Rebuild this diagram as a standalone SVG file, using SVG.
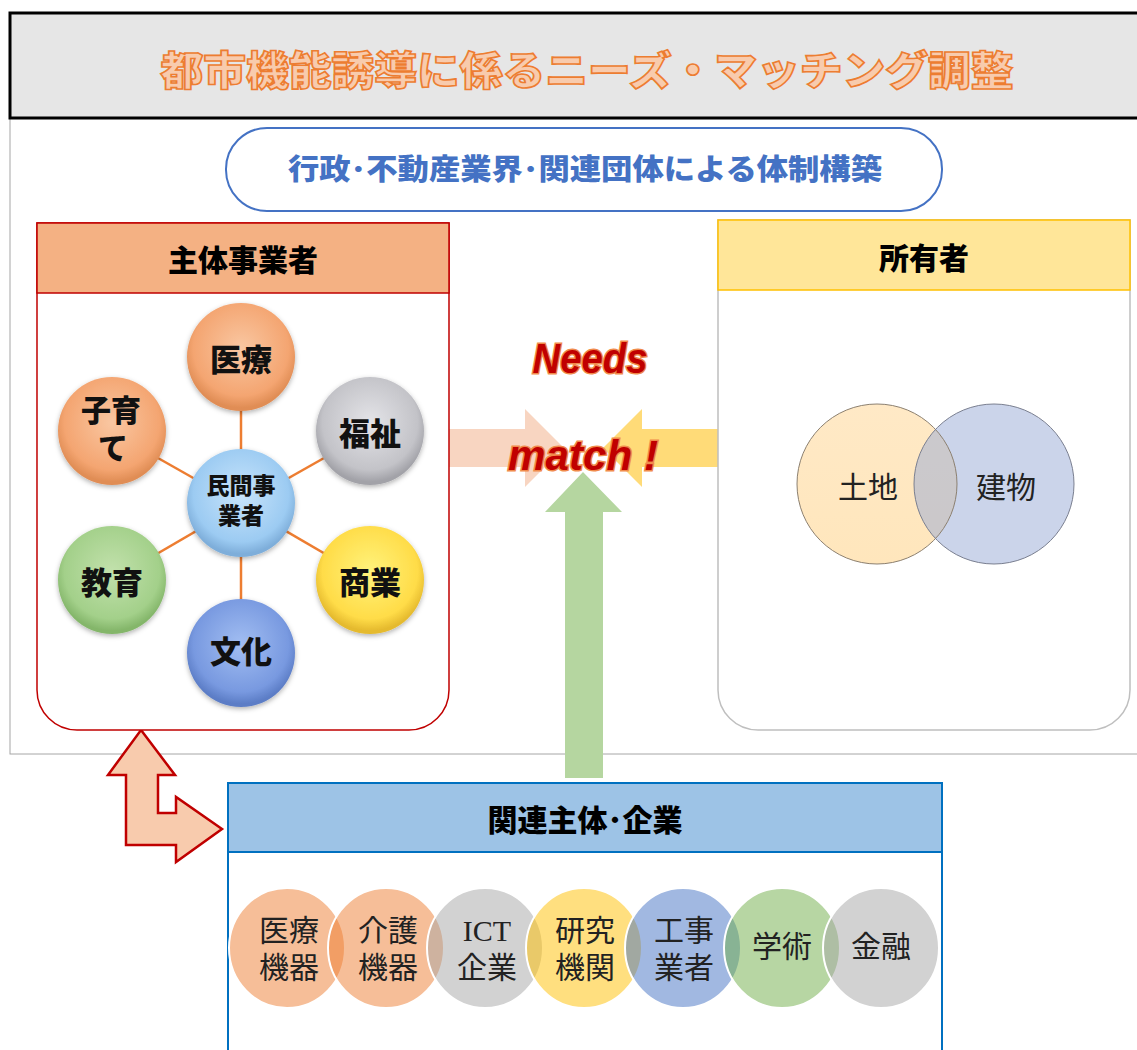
<svg xmlns="http://www.w3.org/2000/svg" width="1137" height="1050" viewBox="0 0 1137 1050">
<defs>
<style>
.hb{font-family:"Noto Sans CJK JP",sans-serif;font-weight:900;font-size:30px;fill:#000;text-anchor:middle;dominant-baseline:central}
.ball{font-family:"Noto Sans CJK JP",sans-serif;font-weight:900;font-size:31px;fill:#111;text-anchor:middle;dominant-baseline:central}
.ball2{font-family:"Liberation Sans","Noto Sans CJK JP",sans-serif;font-weight:900;fill:#111;text-anchor:middle}
.mincho{font-family:"Liberation Serif","Noto Sans CJK JP",serif;font-size:30px;fill:#222;text-anchor:middle;dominant-baseline:central}
.conn{stroke:#ED7D31;stroke-width:2.5}
.ven{stroke:#fff;stroke-width:2;fill-opacity:0.5}
.pop{font-family:"Liberation Sans",sans-serif;font-weight:bold;font-style:italic;font-size:42px;fill:#C00000;stroke:#F08A4B;stroke-width:3;paint-order:stroke;text-anchor:middle}
</style>
<radialGradient id="gOr" cx="50%" cy="42%" r="55%"><stop offset="0" stop-color="#F9C7A2"/><stop offset="0.8" stop-color="#F4A571"/><stop offset="1" stop-color="#E08D55"/></radialGradient>
<radialGradient id="gGy" cx="50%" cy="42%" r="55%"><stop offset="0" stop-color="#E4E4E8"/><stop offset="0.8" stop-color="#C3C3C8"/><stop offset="1" stop-color="#A2A2A8"/></radialGradient>
<radialGradient id="gLb" cx="50%" cy="42%" r="55%"><stop offset="0" stop-color="#C8E4FB"/><stop offset="0.8" stop-color="#9CCBF2"/><stop offset="1" stop-color="#7EAEDA"/></radialGradient>
<radialGradient id="gGr" cx="50%" cy="42%" r="55%"><stop offset="0" stop-color="#C2E1AC"/><stop offset="0.8" stop-color="#A3D08A"/><stop offset="1" stop-color="#84B66A"/></radialGradient>
<radialGradient id="gYe" cx="50%" cy="42%" r="55%"><stop offset="0" stop-color="#FFF37C"/><stop offset="0.8" stop-color="#FFDC48"/><stop offset="1" stop-color="#E5BA2E"/></radialGradient>
<radialGradient id="gBl" cx="50%" cy="42%" r="55%"><stop offset="0" stop-color="#A2BEF2"/><stop offset="0.8" stop-color="#7899E0"/><stop offset="1" stop-color="#5C7DC6"/></radialGradient>
<linearGradient id="gLand" x1="0" y1="0" x2="0" y2="1"><stop offset="0" stop-color="#FFE9C6"/><stop offset="1" stop-color="#FFE6BC"/></linearGradient>
<filter id="sh" x="-20%" y="-20%" width="140%" height="140%"><feDropShadow dx="0" dy="2" stdDeviation="2.5" flood-color="#000" flood-opacity="0.3"/></filter>
</defs>

<rect id="outer" x="10" y="118" width="1140" height="636" fill="#fff" stroke="#A6A6A6" stroke-width="1"/>
<g id="title">
<rect x="10" y="13" width="1140" height="105" fill="#E6E6E6" stroke="#000" stroke-width="3"/>
<text x="587" y="68" textLength="853" lengthAdjust="spacingAndGlyphs" style="font-family:'Noto Sans CJK JP',sans-serif;font-weight:900;font-size:40px;fill:#F8CBAD;stroke:#ED7D31;stroke-width:1.6;text-anchor:middle;dominant-baseline:central">都市機能誘導に係るニーズ・マッチング調整</text>
</g>
<g id="system">
<rect x="226" y="128" width="716" height="83" rx="41" fill="#fff" stroke="#4472C4" stroke-width="2"/>
<text x="585" y="167" textLength="594" lengthAdjust="spacingAndGlyphs" style="font-family:'Noto Sans CJK JP',sans-serif;font-weight:900;font-size:29px;fill:#4472C4;text-anchor:middle;dominant-baseline:central">行政･不動産業界･関連団体による体制構築</text>
</g>

<g id="connectors">
<polygon points="449,429 525,429 525,409 564,448 525,487 525,467 449,467" fill="#F8D5C1"/>
<polygon points="718,429 642,429 642,409 603,448 642,487 642,467 718,467" fill="#FFDB78"/>
<polygon points="565,778 565,512 545,512 583,472 622,512 603,512 603,778" fill="#B5D6A0"/>
<path d="M141,730 L175,775 L158,775 L158,813 L176,813 L176,797 L222,829 L176,862 L176,845 L126,845 L126,775 L108,775 Z" fill="#F8CBAD" stroke="#C00000" stroke-width="2.5" stroke-linejoin="miter"/>
</g>

<g id="operators">
<path d="M37,223 H449 V690 A40,40 0 0 1 409,730 H77 A40,40 0 0 1 37,690 Z" fill="#fff" stroke="#C00000" stroke-width="1.5"/>
<rect x="37" y="223" width="412" height="70" fill="#F4B183" stroke="#C00000" stroke-width="1.5"/>
<text class="hb" x="243" y="258">主体事業者</text>
<g id="hub-lines">
<line class="conn" x1="241" y1="505" x2="241" y2="357"/>
<line class="conn" x1="241" y1="505" x2="241" y2="655"/>
<line class="conn" x1="241" y1="505" x2="112" y2="432"/>
<line class="conn" x1="241" y1="505" x2="370" y2="432"/>
<line class="conn" x1="241" y1="505" x2="112" y2="580"/>
<line class="conn" x1="241" y1="505" x2="370" y2="580"/>
</g>
<g id="n-iryo"><circle cx="241" cy="357" r="54" fill="url(#gOr)" filter="url(#sh)"/><text class="ball" x="241" y="357">医療</text></g>
<g id="n-fukushi"><circle cx="370" cy="431" r="54" fill="url(#gGy)" filter="url(#sh)"/><text class="ball" x="370" y="431">福祉</text></g>
<g id="n-kosodate"><circle cx="112" cy="431" r="54" fill="url(#gOr)" filter="url(#sh)"/><text class="ball2" style="font-size:30px" x="111" y="421">子育</text><text class="ball2" style="font-size:30px" x="113" y="459">て</text></g>
<g id="n-minkan"><circle cx="241" cy="503" r="54" fill="url(#gLb)" filter="url(#sh)"/><text class="ball2" style="font-size:23px" x="241" y="494">民間事</text><text class="ball2" style="font-size:23px" x="241" y="524">業者</text></g>
<g id="n-kyoiku"><circle cx="112" cy="580" r="54" fill="url(#gGr)" filter="url(#sh)"/><text class="ball" x="112" y="580">教育</text></g>
<g id="n-shogyo"><circle cx="370" cy="580" r="54" fill="url(#gYe)" filter="url(#sh)"/><text class="ball" x="370" y="580">商業</text></g>
<g id="n-bunka"><circle cx="241" cy="653" r="54" fill="url(#gBl)" filter="url(#sh)"/><text class="ball" x="241" y="649">文化</text></g>
</g>

<g id="owners">
<path d="M718,220 H1130 V690 A40,40 0 0 1 1090,730 H758 A40,40 0 0 1 718,690 Z" fill="#fff" stroke="#BFBFBF" stroke-width="1.5"/>
<rect x="718" y="220" width="412" height="70" fill="#FFE699" stroke="#FFC000" stroke-width="1.5"/>
<text class="hb" x="924" y="256">所有者</text>
<g id="n-land"><circle cx="877" cy="484" r="80" fill="url(#gLand)"/></g>
<g id="n-building"><circle cx="994" cy="484" r="80" fill="#97A9D5" fill-opacity="0.5"/></g>
<circle cx="877" cy="484" r="80" fill="none" stroke="#8C8070" stroke-width="1"/>
<circle cx="994" cy="484" r="80" fill="none" stroke="#7A7F90" stroke-width="1"/>
<text class="mincho" x="868" y="487">土地</text>
<text class="mincho" x="1006" y="487">建物</text>
</g>

<g id="match-label">
<text class="pop" x="590" y="373" textLength="115" lengthAdjust="spacingAndGlyphs">Needs</text>
<text class="pop" x="583" y="470" textLength="150" lengthAdjust="spacingAndGlyphs">match !</text>
</g>

<g id="related">
<rect x="228" y="783" width="714" height="300" fill="#fff" stroke="#0070C0" stroke-width="2"/>
<rect x="228" y="783" width="714" height="69" fill="#9DC3E6" stroke="#0070C0" stroke-width="2"/>
<text class="hb" x="585" y="818">関連主体･企業</text>
<g id="r1"><ellipse class="ven" cx="287" cy="948" rx="58" ry="60" fill="#ED7D31"/></g>
<g id="r2"><ellipse class="ven" cx="386" cy="948" rx="58" ry="60" fill="#ED7D31"/></g>
<g id="r3"><ellipse class="ven" cx="485" cy="948" rx="58" ry="60" fill="#A5A5A5"/></g>
<g id="r4"><ellipse class="ven" cx="584" cy="948" rx="58" ry="60" fill="#FFC000"/></g>
<g id="r5"><ellipse class="ven" cx="683" cy="948" rx="58" ry="60" fill="#4472C4"/></g>
<g id="r6"><ellipse class="ven" cx="782" cy="948" rx="58" ry="60" fill="#70AD47"/></g>
<g id="r7"><ellipse class="ven" cx="881" cy="948" rx="58" ry="60" fill="#A5A5A5"/></g>
<text class="mincho" style="dominant-baseline:auto"><tspan x="289" y="941">医療</tspan><tspan x="289" y="978">機器</tspan></text>
<text class="mincho" style="dominant-baseline:auto"><tspan x="388" y="941">介護</tspan><tspan x="388" y="978">機器</tspan></text>
<text class="mincho" style="dominant-baseline:auto"><tspan x="487" y="941">ICT</tspan><tspan x="487" y="978">企業</tspan></text>
<text class="mincho" style="dominant-baseline:auto"><tspan x="585" y="941">研究</tspan><tspan x="585" y="978">機関</tspan></text>
<text class="mincho" style="dominant-baseline:auto"><tspan x="684" y="941">工事</tspan><tspan x="684" y="978">業者</tspan></text>
<text class="mincho" x="782" y="946">学術</text>
<text class="mincho" x="881" y="946">金融</text>
</g>
</svg>
